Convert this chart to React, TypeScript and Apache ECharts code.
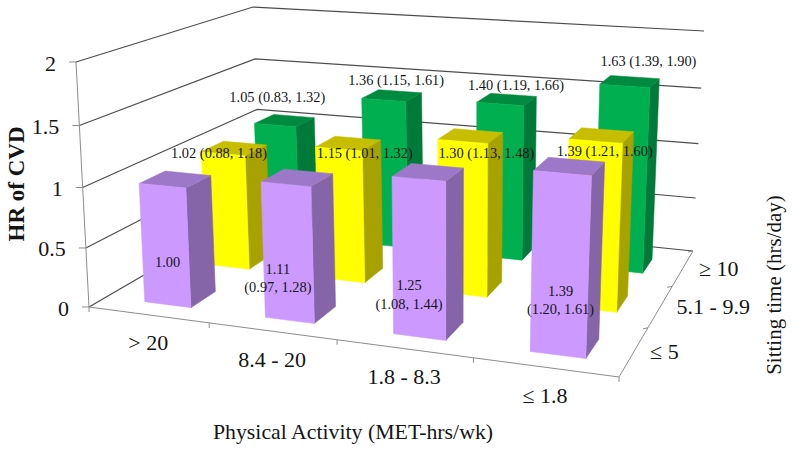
import React, { useEffect, useRef } from "react";
import * as echarts from "echarts";

const physicalActivity = ["> 20", "8.4 - 20", "1.8 - 8.3", "≤ 1.8"];
const sittingTime = ["≤ 5", "5.1 - 9.9", "≥ 10"];
const yTicks = [0, 0.5, 1, 1.5, 2];

const lowSitting = [1.0, 1.11, 1.25, 1.39];
const midSitting = [1.02, 1.15, 1.3, 1.39];
const highSitting = [1.05, 1.36, 1.4, 1.63];

const lowLabels = ["1.00", "1.11\n(0.97, 1.28)", "1.25\n(1.08, 1.44)", "1.39\n(1.20, 1.61)"];
const midLabels = ["1.02 (0.88, 1.18)", "1.15 (1.01, 1.32)", "1.30 (1.13, 1.48)", "1.39 (1.21, 1.60)"];
const highLabels = ["1.05 (0.83, 1.32)", "1.36 (1.15, 1.61)", "1.40 (1.19, 1.66)", "1.63 (1.39, 1.90)"];

// label placement relative to the centre of each bar's top face (px)
const lowNudge = [[-8, 84], [-19, 102], [-18, 124.5], [-7, 135.5]];
const midNudge = [[-15, 6], [17, 11], [17, 19], [5, 17]];
const highNudge = [[-7, -22], [5, -14], [10.5, -13], [20.5, -19]];

const rowStyles = [
  { front: "#CC99FF", side: "#8565A8", top: "#9E78C8" },
  { front: "#FFFF00", side: "#A8A200", top: "#C8BE00" },
  { front: "#00B050", side: "#007A38", top: "#008A40" },
];

// Camera: screen corners of the floor (h = 0) and of the plane at the axis maximum
type P = [number, number];
const floorQuad: P[] = [[89, 307], [619, 377], [693, 251], [261, 207]];
const topQuad: P[] = [[76, 62], [630, 102], [704, 31], [253, 7]];
const heightWarp = 1.05;

function makeHomography(q: P[]) {
  const [[x0, y0], [x1, y1], [x2, y2], [x3, y3]] = q;
  const dx1 = x1 - x2, dx2 = x3 - x2, sx = x0 - x1 + x2 - x3;
  const dy1 = y1 - y2, dy2 = y3 - y2, sy = y0 - y1 + y2 - y3;
  const den = dx1 * dy2 - dx2 * dy1;
  const g = (sx * dy2 - dx2 * sy) / den;
  const h = (dx1 * sy - sx * dy1) / den;
  const a = x1 - x0 + g * x1, b = x3 - x0 + h * x3;
  const d = y1 - y0 + g * y1, e = y3 - y0 + h * y3;
  return (u: number, v: number): P => {
    const w = g * u + h * v + 1;
    return [(a * u + b * v + x0) / w, (d * u + e * v + y0) / w];
  };
}
const floorH = makeHomography(floorQuad);
const topH = makeHomography(topQuad);

function project(u: number, v: number, t: number): P {
  const a = floorH(u, v), b = topH(u, v);
  const k = t / ((1 - t) * heightWarp + t);
  return [a[0] + (b[0] - a[0]) * k, a[1] + (b[1] - a[1]) * k];
}

const BAR_WIDTH = 0.39;
const BAR_SHIFT = 0.025;
const BAR_FRONT = 0.25;
const BAR_DEPTH = 0.4;
const SERIF = "'Liberation Serif', 'Times New Roman', serif";
const GRID_COLOR = "#4d4d4d";
const AXIS_COLOR = "#8c8c8c";
const TEXT_COLOR = "#151515";

function scaled(params: any, api: any, i: number, val: number) {
  const cs = params.coordSys;
  const uc = (api.coord([i, 0])[0] - cs.x) / cs.width;
  const du = api.size([1, 0])[0] / cs.width;
  const t = 1 - (api.coord([i, val])[1] - cs.y) / cs.height;
  return { uc, du, t };
}

function barSeries(values: number[], row: number) {
  const style = rowStyles[row];
  return {
    type: "custom",
    coordinateSystem: "cartesian2d",
    silent: true,
    z: 4 + (2 - row),
    data: values.map((v, i) => [i, v]),
    renderItem(params: any, api: any) {
      const { uc, du, t } = scaled(params, api, api.value(0), api.value(1));
      const dv = 1 / sittingTime.length;
      const c = uc + du * BAR_SHIFT;
      const u0 = c - (du * BAR_WIDTH) / 2, u1 = c + (du * BAR_WIDTH) / 2;
      const v0 = (row + BAR_FRONT) * dv, v1 = v0 + dv * BAR_DEPTH;
      const face = (pts: P[], fill: string) => ({
        type: "polygon",
        shape: { points: pts },
        style: { fill, stroke: fill, lineWidth: 0.5 },
      });
      return {
        type: "group",
        children: [
          face([project(u1, v0, 0), project(u1, v1, 0), project(u1, v1, t), project(u1, v0, t)], style.side),
          face([project(u0, v0, t), project(u1, v0, t), project(u1, v1, t), project(u0, v1, t)], style.top),
          face([project(u0, v0, 0), project(u1, v0, 0), project(u1, v0, t), project(u0, v0, t)], style.front),
        ],
      };
    },
  };
}

function labelSeries(values: number[], labels: string[], nudges: number[][], row: number, size: number) {
  return {
    type: "custom",
    coordinateSystem: "cartesian2d",
    silent: true,
    z: 10,
    data: values.map((v, i) => [i, v]),
    renderItem(params: any, api: any) {
      const i = api.value(0);
      const { uc, t } = scaled(params, api, i, api.value(1));
      const p = project(uc, (row + 0.5) / sittingTime.length, t);
      return {
        type: "text",
        x: p[0] + nudges[i][0],
        y: p[1] + nudges[i][1],
        style: {
          text: labels[i],
          fontFamily: SERIF,
          fontSize: size,
          lineHeight: 18.5,
          fill: TEXT_COLOR,
          align: "center",
          verticalAlign: "middle",
        },
      };
    },
  };
}

function line(a: P, b: P, color = AXIS_COLOR, width = 1) {
  return { type: "polyline", shape: { points: [a, b] }, style: { stroke: color, lineWidth: width, fill: "none" } };
}

const wallSeries = {
  type: "custom",
  coordinateSystem: "cartesian2d",
  silent: true,
  z: 2,
  data: yTicks.map((v) => [0, v]),
  renderItem(params: any, api: any) {
    const val = api.value(1);
    const cs = params.coordSys;
    const t = 1 - (api.coord([0, val])[1] - cs.y) / cs.height;
    const fl = project(0, 0, t), bl = project(0, 1, t), br = project(1, 1, t);
    return {
      type: "group",
      children: [
        { type: "polyline", shape: { points: [fl, bl, br] }, style: { stroke: GRID_COLOR, lineWidth: 1.2, fill: "none" } },
        line(fl, [fl[0] - 7, fl[1]]),
        {
          type: "text",
          x: fl[0] - 20,
          y: fl[1] + 1,
          style: {
            text: String(val),
            fontFamily: SERIF,
            fontSize: 22,
            fill: TEXT_COLOR,
            align: "right",
            verticalAlign: "middle",
          },
        },
      ],
    };
  },
};

const frameSeries = {
  type: "custom",
  coordinateSystem: "cartesian2d",
  silent: true,
  z: 3,
  data: [[0, 0]],
  renderItem() {
    const fl = project(0, 0, 0), fr = project(1, 0, 0), br = project(1, 1, 0);
    const children: any[] = [line(fl, project(0, 0, 1)), line(fl, fr), line(fr, br)];
    physicalActivity.forEach((_, i) => {
      const p = project(i / physicalActivity.length, 0, 0);
      children.push(line(p, [p[0], p[1] + 5]));
    });
    children.push(line(fr, [fr[0], fr[1] + 5]));
    sittingTime.forEach((_, j) => {
      const p = project(1, (j + 1) / sittingTime.length, 0);
      children.push(line(p, [p[0] - 5, p[1] + 1]));
    });
    return { type: "group", children };
  },
};

const xLabelSeries = {
  type: "custom",
  coordinateSystem: "cartesian2d",
  silent: true,
  z: 3,
  data: physicalActivity.map((_, i) => [i, 0]),
  renderItem(params: any, api: any) {
    const i = api.value(0);
    const { uc } = scaled(params, api, i, 0);
    const p = project(uc, 0, 0);
    return {
      type: "text",
      x: p[0],
      y: p[1] + 28,
      style: {
        text: physicalActivity[i],
        fontFamily: SERIF,
        fontSize: 22,
        fill: TEXT_COLOR,
        align: "center",
        verticalAlign: "middle",
      },
    };
  },
};

const rowLabelSeries = {
  type: "custom",
  coordinateSystem: "cartesian2d",
  silent: true,
  z: 3,
  data: sittingTime.map((_, j) => [0, j]),
  renderItem(_params: any, api: any) {
    const j = api.value(1);
    const p = project(1, (j + 0.5) / sittingTime.length, 0);
    return {
      type: "text",
      x: p[0] + 16,
      y: p[1] + 0.5,
      style: {
        text: sittingTime[j],
        fontFamily: SERIF,
        fontSize: 22,
        fill: TEXT_COLOR,
        align: "left",
        verticalAlign: "middle",
      },
    };
  },
};

const option = {
  animation: false,
  backgroundColor: "#ffffff",
  grid: { left: 100, top: 100, width: 400, height: 200 },
  xAxis: { type: "category", data: physicalActivity, show: false },
  yAxis: { type: "value", min: 0, max: 2, interval: 0.5, show: false },
  series: [
    wallSeries,
    frameSeries,
    xLabelSeries,
    rowLabelSeries,
    barSeries(highSitting, 2),
    barSeries(midSitting, 1),
    barSeries(lowSitting, 0),
    labelSeries(highSitting, highLabels, highNudge, 2, 14.4),
    labelSeries(midSitting, midLabels, midNudge, 1, 14.4),
    labelSeries(lowSitting, lowLabels, lowNudge, 0, 14.4),
  ],
  graphic: [
    {
      type: "text",
      x: 353,
      y: 432,
      style: { text: "Physical Activity (MET-hrs/wk)", fontFamily: SERIF, fontSize: 21.8, fill: TEXT_COLOR, align: "center", verticalAlign: "middle" },
    },
    {
      type: "text",
      x: 16,
      y: 184,
      rotation: Math.PI / 2,
      style: { text: "HR of CVD", fontFamily: SERIF, fontSize: 23, fontWeight: "bold", fill: TEXT_COLOR, align: "center", verticalAlign: "middle" },
    },
    {
      type: "text",
      x: 774,
      y: 285,
      rotation: Math.PI / 2,
      style: { text: "Sitting time (hrs/day)", fontFamily: SERIF, fontSize: 21, fill: TEXT_COLOR, align: "center", verticalAlign: "middle" },
    },
  ],
};

export default function App() {
  const ref = useRef<HTMLDivElement>(null);
  useEffect(() => {
    const chart = echarts.init(ref.current!, null, { renderer: "svg" });
    chart.setOption(option as any);
    return () => chart.dispose();
  }, []);
  return <div ref={ref} style={{ position: "fixed", left: 0, top: 0, width: 794, height: 450 }} />;
}
